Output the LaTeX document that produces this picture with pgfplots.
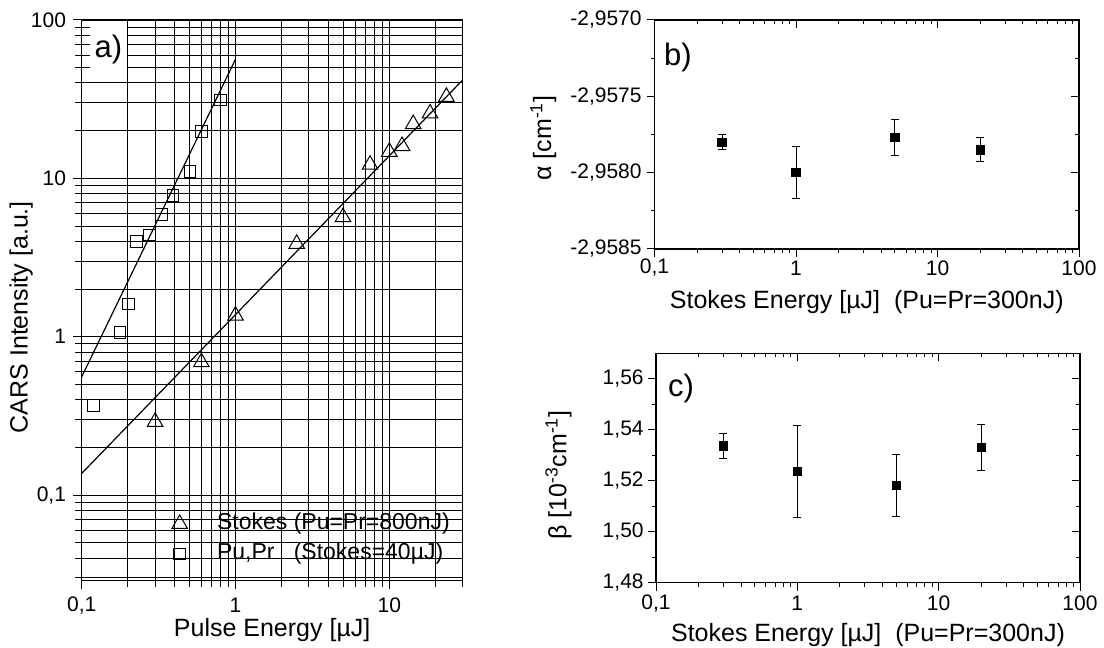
\documentclass[border=0pt]{standalone}
\usepackage{fontspec}
\setmainfont{Liberation Sans}
\usepackage{pgfplots}
\pgfplotsset{compat=1.18}
\usepackage{pgfplotstable}

\pgfplotstableread{
x y
0.119 0.367
0.177 1.06
0.202 1.61
0.228 4.0
0.277 4.4
0.33 5.9
0.393 7.8
0.506 11.0
0.60 19.7
0.80 31.2
}\sqdata

\pgfplotstableread{
x y
0.3 0.29
0.6 0.69
1.0 1.36
2.5 3.86
5.0 5.69
7.5 12.2
10 14.7
12.1 16.0
14.3 22.0
18.4 25.7
23.5 32.7
}\tridata

\pgfplotstableread{
x y e
0.3 -2.95780 0.00005
1 -2.95800 0.00017
5 -2.95777 0.00012
20 -2.95785 0.00008
}\bdata

\pgfplotstableread{
x y e
0.3 1.5337 0.0050
1 1.5236 0.0181
5 1.5182 0.0121
20 1.5331 0.0090
}\cdata

\newcommand{\tickfont}{\fontsize{10.5}{12}\selectfont}
\newcommand{\labfont}{\fontsize{12.5}{14}\selectfont}
\newcommand{\legfont}{\fontsize{11.5}{13}\selectfont}
\newcommand{\panfont}{\fontsize{15.5}{17}\selectfont}

\pgfplotsset{
  mystyle/.style={
    scale only axis,
    axis line style={line width=0.7pt, black},
    tick style={black, line width=0.5pt},
  },
  mylegimg/.style={
    legend image code/.code={%
      \pgfpathrectangle{\pgfpoint{-7pt}{-3pt}}{\pgfpoint{25.7pt}{12pt}}%
      \pgfusepath{use as bounding box}%
      \draw[##1] plot coordinates {(0pt,0pt)};}
  },
}

\begin{document}
\begin{tikzpicture}
\path[use as bounding box] (0,0) rectangle (552pt,324pt);

% ---------------- panel a ----------------
\begin{axis}[
  mystyle,
  at={(40.85pt,33.65pt)}, anchor=south west,
  width=190.5pt, height=280.35pt,
  xmode=log, ymode=log,
  xmin=0.1, xmax=30, ymin=0.0288, ymax=100,
  xtick={0.1,1,10}, xticklabels={{0,1},1,10},
  minor xtick={0.2,0.3,0.4,0.5,0.6,0.7,0.8,0.9,2,3,4,5,6,7,8,9,20,30},
  ytick={0.1,1,10,100}, yticklabels={{0,1},1,10,100},
  minor ytick={0.03,0.04,0.05,0.06,0.07,0.08,0.09,0.2,0.3,0.4,0.5,0.6,0.7,0.8,0.9,2,3,4,5,6,7,8,9,20,30,40,50,60,70,80,90},
  grid=both,
  major grid style={black, line width=0.5pt},
  minor grid style={black, line width=0.5pt},
  tick align=center, xtick pos=left, ytick pos=left,
  major tick length=8.5pt, minor tick length=6.5pt,
  xticklabel style={font=\tickfont, anchor=center, yshift=-8pt},
  yticklabel style={font=\tickfont, anchor=east, inner sep=0pt, xshift=-3.4pt},
  every axis x label/.style={at={(axis description cs:0.5,-0.088)}, anchor=center, font=\labfont},
  every axis y label/.style={at={(axis description cs:-0.159,0.47)}, rotate=90, anchor=center, font=\labfont},
  xlabel={Pulse Energy [µJ]},
  ylabel={CARS Intensity [a.u.]},
  legend cell align=left,
  legend style={at={(axis description cs:0.2194,0.134)}, anchor=north west,
    draw=none, fill=none, inner sep=0pt, row sep=0pt, font=\legfont,
    nodes={inner sep=0pt, text height=9pt, text depth=3pt, font=\legfont}},
]
\addplot[black, line width=0.6pt, forget plot] coordinates {(0.1,0.137) (30,41.8)};
\addplot[black, line width=0.6pt, forget plot] coordinates {(0.1,0.558) (1,56.5)};
\addplot[only marks, mark=triangle, mark size=4.5pt, mark options={black, fill=white, line width=0.5pt}, mylegimg] table[x=x,y=y] {\tridata};
\addlegendentry{\legfont Stokes (Pu=Pr=800nJ)}
\addplot[only marks, mark=square, mark size=2.9pt, mark options={black, fill=white, line width=0.5pt}, mylegimg] table[x=x,y=y] {\sqdata};
\addlegendentry{\legfont\rlap{Pu,Pr}\hphantom{Stokes }(Stokes=40µJ)}
\node[fill=white, anchor=north west, minimum width=18.3pt, minimum height=27pt, inner sep=0pt] at (axis description cs:0,1) [xshift=4pt, yshift=-0.5pt] {};
\node[font=\panfont, anchor=center] at (axis description cs:0.070,0.9465) {a)};
\end{axis}

% ---------------- panel b ----------------
\begin{axis}[
  mystyle,
  xmode=log, xmin=0.1, xmax=100,
  xtick={0.1,1,10,100}, xticklabels={{0,1},1,10,100},
  minor xtick={0.2,0.3,0.4,0.5,0.6,0.7,0.8,0.9,2,3,4,5,6,7,8,9,20,30,40,50,60,70,80,90},
  at={(327.25pt,199.5pt)}, anchor=south west,
  width=212.25pt, height=114.5pt,
  ymin=-2.9585, ymax=-2.9570,
  ytick={-2.9585,-2.958,-2.9575,-2.957},
  yticklabels={{-2,9585},{-2,9580},{-2,9575},{-2,9570}},
  minor ytick={-2.95825,-2.95775,-2.95725},
  tick align=outside, xtick pos=left, ytick pos=left,
  major tick length=4pt, minor tick length=2pt,
  xticklabel style={font=\tickfont, anchor=center, yshift=-5.5pt},
  yticklabel style={font=\tickfont, anchor=east, inner sep=0pt, xshift=-2.25pt},
  every axis x label/.style={at={(axis description cs:0.5,-0.230)}, anchor=center, font=\labfont},
  every axis y label/.style={at={(axis description cs:-0.262,0.485)}, rotate=90, anchor=center, font=\labfont},
  xlabel={Stokes Energy [µJ]\ \ (Pu=Pr=300nJ)},
  ylabel={α [cm\textsuperscript{-1}]},
]
\addplot[black, only marks, mark=square*, mark size=2.1pt, mark options={fill=black},
  error bars/.cd, y dir=both, y explicit,
  error mark options={rotate=90, mark size=2pt, line width=0.5pt, black},
  error bar style={line width=0.5pt, black}]
  table[x=x, y=y, y error=e] {\bdata};
\node[font=\panfont, anchor=center] at (axis description cs:0.0554,0.838) {b)};
\end{axis}
\begin{axis}[
  mystyle,
  xmode=log, xmin=0.1, xmax=100,
  xtick={0.1,1,10,100},
  minor xtick={0.2,0.3,0.4,0.5,0.6,0.7,0.8,0.9,2,3,4,5,6,7,8,9,20,30,40,50,60,70,80,90},
  at={(327.25pt,199.5pt)}, anchor=south west,
  width=212.25pt, height=114.5pt,
  ymin=-2.9585, ymax=-2.9570,
  ytick={-2.9585,-2.958,-2.9575,-2.957},
  minor ytick={-2.95825,-2.95775,-2.95725},
  xticklabels={}, yticklabels={},
  tick align=inside, xtick pos=right, ytick pos=right,
  major tick length=4pt, minor tick length=2pt,
]
\end{axis}

% ---------------- panel c ----------------
\begin{axis}[
  mystyle,
  xmode=log, xmin=0.1, xmax=100,
  xtick={0.1,1,10,100}, xticklabels={{0,1},1,10,100},
  minor xtick={0.2,0.3,0.4,0.5,0.6,0.7,0.8,0.9,2,3,4,5,6,7,8,9,20,30,40,50,60,70,80,90},
  at={(328pt,32.65pt)}, anchor=south west,
  width=212pt, height=114.7pt,
  ymin=1.48, ymax=1.57,
  ytick={1.48,1.50,1.52,1.54,1.56},
  yticklabels={{1,48},{1,50},{1,52},{1,54},{1,56}},
  minor ytick={1.49,1.51,1.53,1.55},
  tick align=outside, xtick pos=left, ytick pos=left,
  major tick length=4pt, minor tick length=2pt,
  xticklabel style={font=\tickfont, anchor=center, yshift=-6.2pt},
  yticklabel style={font=\tickfont, anchor=east, inner sep=0pt, xshift=-2pt},
  every axis x label/.style={at={(axis description cs:0.5,-0.228)}, anchor=center, font=\labfont},
  every axis y label/.style={at={(axis description cs:-0.230,0.469)}, rotate=90, anchor=center, font=\labfont},
  xlabel={Stokes Energy [µJ]\ \ (Pu=Pr=300nJ)},
  ylabel={β [10\textsuperscript{-3}cm\textsuperscript{-1}]},
]
\addplot[black, only marks, mark=square*, mark size=2.1pt, mark options={fill=black},
  error bars/.cd, y dir=both, y explicit,
  error mark options={rotate=90, mark size=2pt, line width=0.5pt, black},
  error bar style={line width=0.5pt, black}]
  table[x=x, y=y, y error=e] {\cdata};
\node[font=\panfont, anchor=center] at (axis description cs:0.059,0.847) {c)};
\end{axis}
\begin{axis}[
  mystyle,
  xmode=log, xmin=0.1, xmax=100,
  xtick={0.1,1,10,100},
  minor xtick={0.2,0.3,0.4,0.5,0.6,0.7,0.8,0.9,2,3,4,5,6,7,8,9,20,30,40,50,60,70,80,90},
  at={(328pt,32.65pt)}, anchor=south west,
  width=212pt, height=114.7pt,
  ymin=1.48, ymax=1.57,
  ytick={1.48,1.50,1.52,1.54,1.56},
  minor ytick={1.49,1.51,1.53,1.55},
  xticklabels={}, yticklabels={},
  tick align=inside, xtick pos=right, ytick pos=right,
  major tick length=4pt, minor tick length=2pt,
]
\end{axis}
\end{tikzpicture}
\end{document}
